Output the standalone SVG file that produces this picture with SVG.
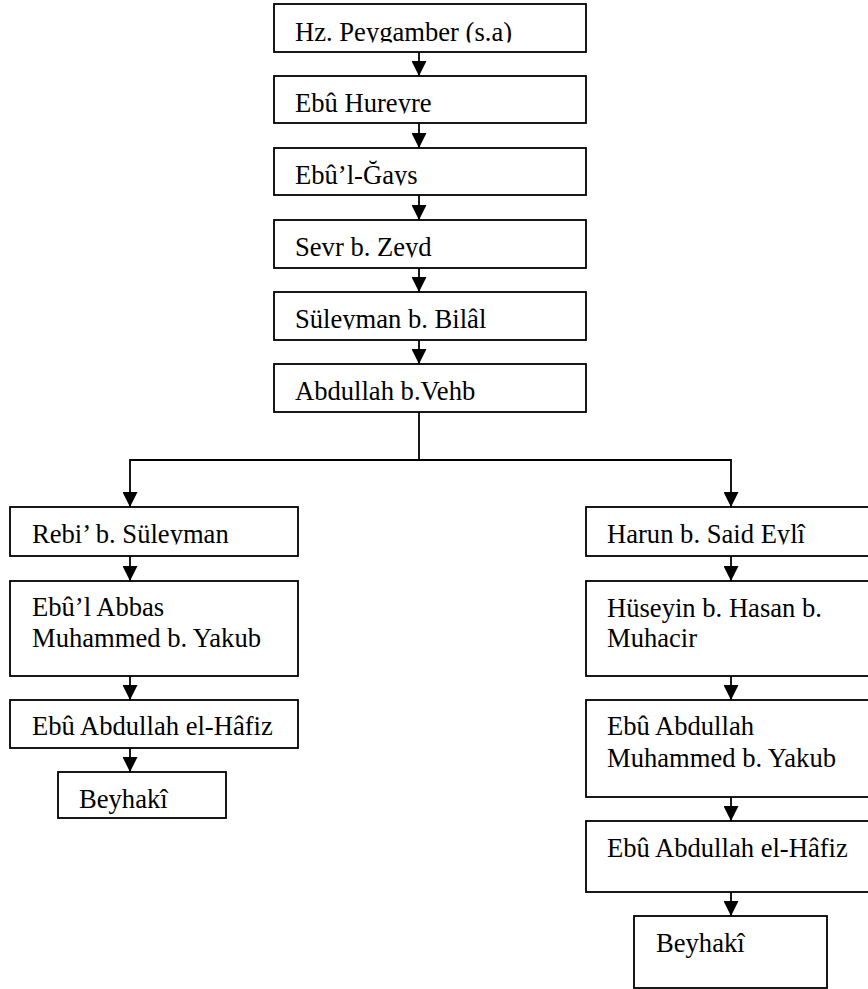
<svg xmlns="http://www.w3.org/2000/svg" width="868" height="989" viewBox="0 0 868 989">
<style>
rect.b{fill:#fff;stroke:#000;stroke-width:1.8}
text{font-family:"Liberation Serif","Times New Roman",serif;font-size:26.6px;fill:#000}
.c path{fill:none;stroke:#000;stroke-width:1.8}
</style>
<defs>
<marker id="ah" markerUnits="userSpaceOnUse" markerWidth="16" markerHeight="15" refX="15" refY="7.5" orient="auto">
<path d="M0,0 L15,7.5 L0,15 Z" fill="#000"/>
</marker>
<clipPath id="k1"><rect x="274" y="4" width="312" height="38.5"/></clipPath>
<clipPath id="k2"><rect x="274" y="76" width="312" height="37.5"/></clipPath>
<clipPath id="k3"><rect x="274" y="148" width="312" height="37.5"/></clipPath>
<clipPath id="k4"><rect x="274" y="220" width="312" height="37.5"/></clipPath>
<clipPath id="k5"><rect x="274" y="292" width="312" height="37.5"/></clipPath>
<clipPath id="k6"><rect x="10" y="507" width="288" height="37.5"/></clipPath>
<clipPath id="k7"><rect x="586" y="507" width="290" height="37.5"/></clipPath>
</defs>

<g id="n1"><rect class="b" x="274" y="4" width="312" height="48"/><text x="295" y="41" clip-path="url(#k1)">Hz. Peygamber (s.a)</text></g>
<g id="n2"><rect class="b" x="274" y="76" width="312" height="47"/><text x="295" y="112" clip-path="url(#k2)">Ebû Hureyre</text></g>
<g id="n3"><rect class="b" x="274" y="148" width="312" height="47"/><text x="295" y="184" clip-path="url(#k3)">Ebû’l-Ğays</text></g>
<g id="n4"><rect class="b" x="274" y="220" width="312" height="48"/><text x="295" y="256" clip-path="url(#k4)">Sevr b. Zeyd</text></g>
<g id="n5"><rect class="b" x="274" y="292" width="312" height="48"/><text x="295" y="328" clip-path="url(#k5)">Süleyman b. Bilâl</text></g>
<g id="n6"><rect class="b" x="274" y="364" width="312" height="48"/><text x="295" y="400">Abdullah b.Vehb</text></g>

<g id="l1"><rect class="b" x="10" y="507" width="288" height="49"/><text x="32" y="543" clip-path="url(#k6)">Rebi’ b. Süleyman</text></g>
<g id="l2"><rect class="b" x="10" y="581" width="288" height="95"/><text x="32" y="616">Ebû’l Abbas</text><text x="32" y="647">Muhammed b. Yakub</text></g>
<g id="l3"><rect class="b" x="10" y="700" width="288" height="48"/><text x="32" y="735">Ebû Abdullah el-Hâfiz</text></g>
<g id="l4"><rect class="b" x="58" y="772" width="168" height="46"/><text x="79" y="808">Beyhakî</text></g>

<g id="r1"><rect class="b" x="586" y="507" width="300" height="49"/><text x="607" y="543" clip-path="url(#k7)">Harun b. Said Eylî</text></g>
<g id="r2"><rect class="b" x="586" y="581" width="300" height="95"/><text x="607" y="617">Hüseyin b. Hasan b.</text><text x="607" y="647">Muhacir</text></g>
<g id="r3"><rect class="b" x="586" y="700" width="300" height="97"/><text x="607" y="735">Ebû Abdullah</text><text x="607" y="767">Muhammed b. Yakub</text></g>
<g id="r4"><rect class="b" x="586" y="821" width="300" height="71"/><text x="607" y="857">Ebû Abdullah el-Hâfiz</text></g>
<g id="r5"><rect class="b" x="634" y="916" width="193" height="72"/><text x="656" y="952">Beyhakî</text></g>

<g class="c" id="connectors">
<path d="M419,52 V76" marker-end="url(#ah)"/>
<path d="M419,123 V148" marker-end="url(#ah)"/>
<path d="M419,195 V220" marker-end="url(#ah)"/>
<path d="M419,268 V292" marker-end="url(#ah)"/>
<path d="M419,340 V364" marker-end="url(#ah)"/>
<path d="M419,412 V460 H130 V507" marker-end="url(#ah)"/>
<path d="M419,460 H731 V507" marker-end="url(#ah)"/>
<path d="M130,556 V581" marker-end="url(#ah)"/>
<path d="M130,676 V700" marker-end="url(#ah)"/>
<path d="M130,748 V772" marker-end="url(#ah)"/>
<path d="M731,556 V581" marker-end="url(#ah)"/>
<path d="M731,676 V700" marker-end="url(#ah)"/>
<path d="M731,797 V821" marker-end="url(#ah)"/>
<path d="M731,892 V916" marker-end="url(#ah)"/>
</g>
</svg>
